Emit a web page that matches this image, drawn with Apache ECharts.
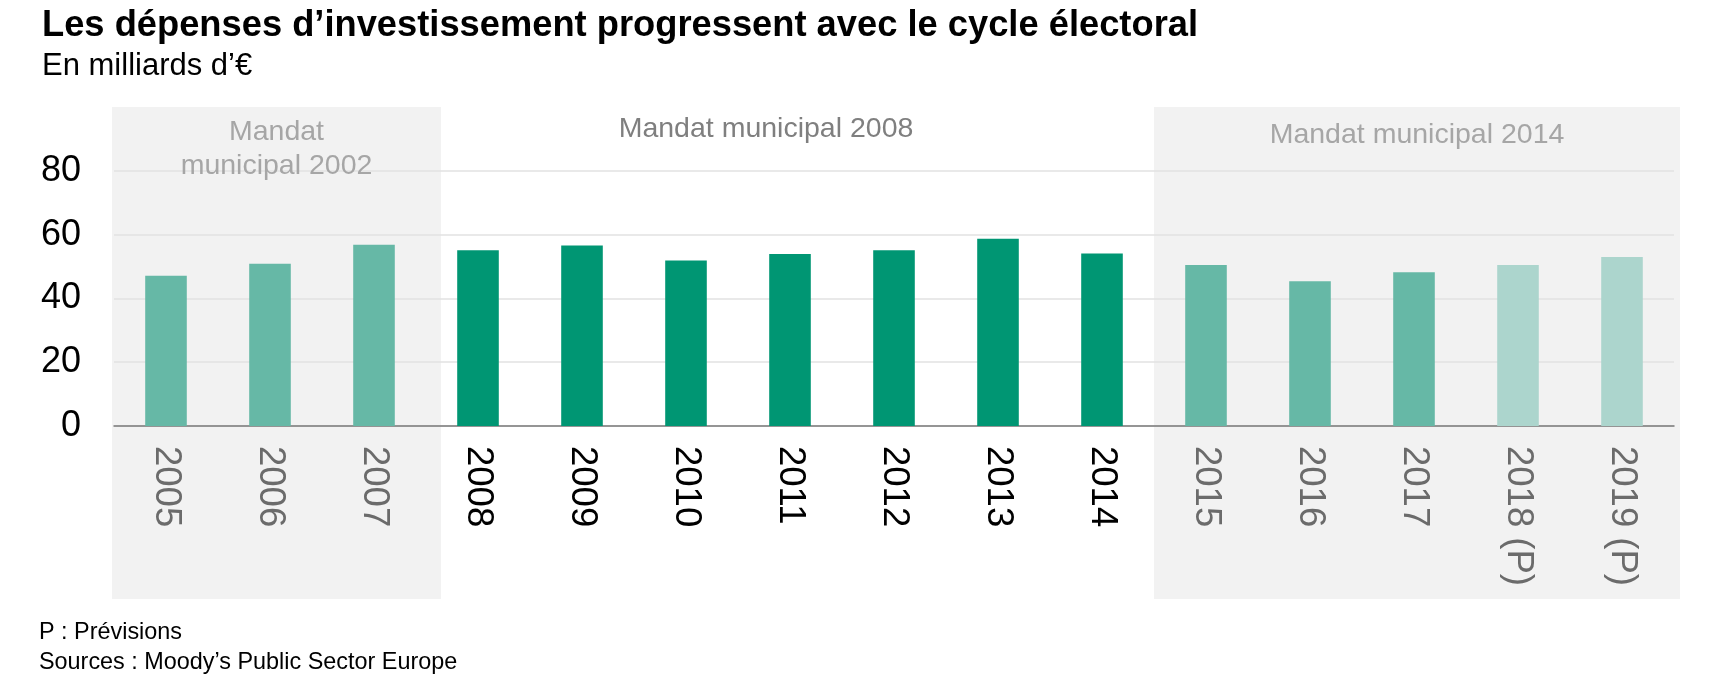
<!DOCTYPE html>
<html>
<head>
<meta charset="utf-8">
<script src="https://cdn.jsdelivr.net/npm/echarts@6/dist/echarts.min.js"></script>
<style>
html,body{margin:0;padding:0;background:#fff;}
#c{width:1733px;height:685px;}
</style>
</head>
<body>
<div id="c"></div>
<script>
// ---- data ----
const categories = ['2005','2006','2007','2008','2009','2010','2011','2012','2013','2014','2015','2016','2017','2018 (P)','2019 (P)'];
const values = [47.1, 50.9, 56.8, 55.1, 56.6, 51.9, 53.9, 55.1, 58.7, 54.1, 50.5, 45.4, 48.2, 50.5, 53.0];
const barKinds = ['other','other','other','current','current','current','current','current','current','current','other','other','other','forecast','forecast'];
const yTicks = [0, 20, 40, 60, 80];
const mandateNames = ['Mandat\nmunicipal 2002', 'Mandat municipal 2008', 'Mandat municipal 2014'];
const mandateFirst = [0, 3, 10];
const mandateLast = [2, 9, 14];
const mandateShaded = [true, false, true];
const titleText = 'Les dépenses d’investissement progressent avec le cycle électoral';
const subtitleText = 'En milliards d’€';
const noteText = 'P : Prévisions';
const sourceText = 'Sources : Moody’s Public Sector Europe';

// ---- styles ----
const kindColor = { other: '#66b8a6', current: '#009673', forecast: '#acd5cd' };
const FONT = '"Liberation Sans", Arial, sans-serif';
const bandPad = [[-2, 15], [0, 0], [0, 6]];
const labelDx = [0, -24, 0];
const labelY = [149.5, 129.5, 135];

function isShadedIndex(i) {
  for (let k = 0; k < mandateFirst.length; k++) {
    if (i >= mandateFirst[k] && i <= mandateLast[k]) return mandateShaded[k];
  }
  return false;
}

const chart = echarts.init(document.getElementById('c'), null, { renderer: 'canvas' });
const option = {
  animation: false,
  backgroundColor: '#fff',
  grid: { left: 114, right: 59, top: 107, bottom: 259, containLabel: false },
  xAxis: {
    type: 'category',
    data: categories,
    axisTick: { show: false },
    axisLine: { lineStyle: { color: '#7a7a7a', width: 1.5 } },
    axisLabel: {
      rotate: -90,
      margin: 20,
      fontSize: 36.5,
      fontFamily: FONT,
      color: function (value, index) { return isShadedIndex(index) ? '#6b6b6b' : '#000000'; }
    }
  },
  yAxis: {
    type: 'value',
    min: yTicks[0],
    max: 100,
    interval: yTicks[1] - yTicks[0],
    axisLine: { show: false },
    axisTick: { show: false },
    axisLabel: { showMaxLabel: false, fontSize: 36, fontFamily: FONT, color: '#000', margin: 33 },
    splitLine: { showMaxLine: false, lineStyle: { color: '#e2e2e2', width: 1.5 } }
  },
  series: [{
    type: 'bar',
    barWidth: '40%',
    data: values.map((v, i) => ({ value: v, itemStyle: { color: kindColor[barKinds[i]] } })),
    z: 3
  }]
};
chart.setOption(option);

function drawExtras() {
  const c0 = chart.convertToPixel({ xAxisIndex: 0 }, 0);
  const c1 = chart.convertToPixel({ xAxisIndex: 0 }, 1);
  const w = c1 - c0;
  const edge = (i) => c0 - w / 2 + i * w;
  const topY = chart.convertToPixel({ yAxisIndex: 0 }, 100);
  const bottomY = 599;
  const els = [];
  for (let k = 0; k < mandateNames.length; k++) {
    const x1 = edge(mandateFirst[k]) + bandPad[k][0];
    const x2 = edge(mandateLast[k] + 1) + bandPad[k][1];
    if (mandateShaded[k]) {
      els.push({ type: 'rect', z: -10, silent: true,
        shape: { x: x1, y: topY, width: x2 - x1, height: bottomY - topY },
        style: { fill: '#f2f2f2' } });
    }
    els.push({ type: 'text', z: 10, silent: true,
      x: (x1 + x2) / 2 + labelDx[k], y: labelY[k],
      style: { text: mandateNames[k], fontSize: 28.5, fontFamily: FONT, lineHeight: 34,
        fill: mandateShaded[k] ? '#a6a6a6' : '#7f7f7f', align: 'center', verticalAlign: 'middle' } });
  }
  els.push({ type: 'text', x: 42, y: 26, style: { text: titleText, fontSize: 36.3, fontWeight: 'bold', fontFamily: FONT, fill: '#000', verticalAlign: 'middle' } });
  els.push({ type: 'text', x: 42, y: 66.5, style: { text: subtitleText, fontSize: 31, fontFamily: FONT, fill: '#000', verticalAlign: 'middle' } });
  els.push({ type: 'text', x: 39, y: 633, style: { text: noteText, fontSize: 23.4, fontFamily: FONT, fill: '#000', verticalAlign: 'middle' } });
  els.push({ type: 'text', x: 39, y: 663, style: { text: sourceText, fontSize: 23.4, fontFamily: FONT, fill: '#000', verticalAlign: 'middle' } });
  chart.setOption({ graphic: { elements: els } });
}
drawExtras();
</script>
</body>
</html>
